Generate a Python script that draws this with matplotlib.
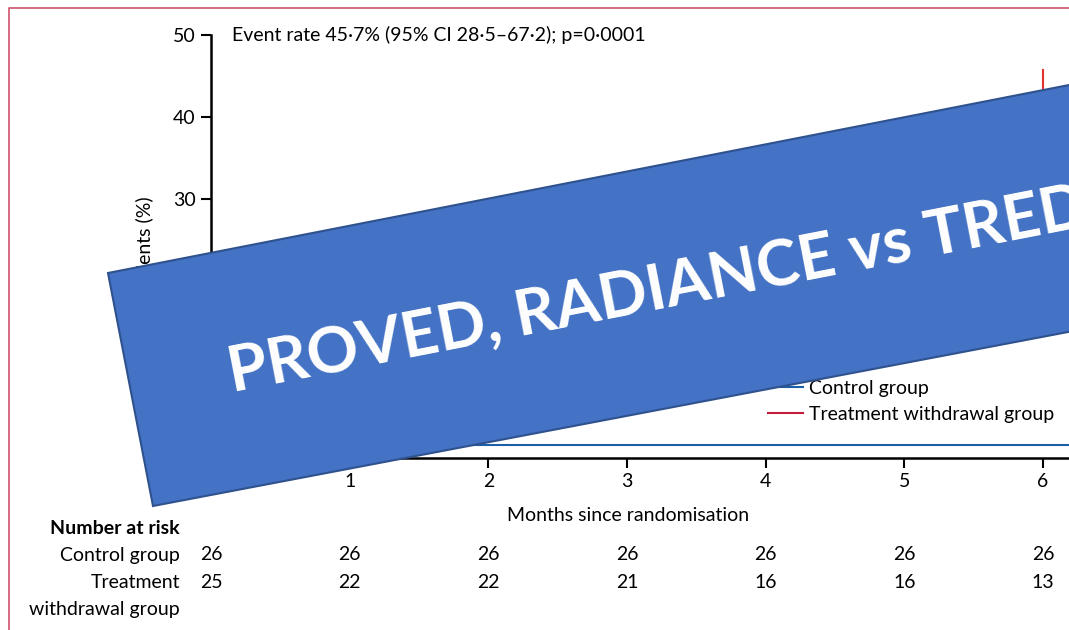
import matplotlib
matplotlib.use("Agg")
import matplotlib.pyplot as plt
from matplotlib.lines import Line2D
from matplotlib.patches import Polygon
from matplotlib.transforms import blended_transform_factory

plt.rcParams['font.family'] = ['Lato', 'DejaVu Sans']

# data
months = [0, 1, 2, 3, 4, 5, 6]
control_at_risk = [26, 26, 26, 26, 26, 26, 26]
treat_at_risk = [25, 22, 22, 21, 16, 16, 13]

control_times = [0, 6.19]
control_pct = [0, 0]
treat_times = [0, 0.3, 0.6, 0.9, 2.5, 3.3, 3.6, 4.2, 5.2, 5.6, 6.0]
treat_pct = [0, 4.0, 8.0, 12.0, 16.5, 21.0, 26.0, 31.0, 36.0, 41.0, 45.7]

W, H = 1069, 630
fig = plt.figure(figsize=(W / 100, H / 100), dpi=100)


def fx(px):
    return px / W


def fy(py):
    return 1 - py / H


ax = fig.add_axes([fx(211), fy(458), fx(1069 - 211), (458 - 35) / H])

blue = '#1b5fa6'
red = '#e2322e'
ax.step(control_times, control_pct, where='post', color=blue, lw=1.5)
ax.step(treat_times, treat_pct, where='post', color=red, lw=1.5)

ax.set_xlim(0, 6.187)
ax.set_ylim(-1.585, 50)
ax.set_xticks(months)
ax.set_yticks([0, 10, 20, 30, 40, 50])
for s in ['top', 'right']:
    ax.spines[s].set_visible(False)
for s in ['left', 'bottom']:
    ax.spines[s].set_linewidth(1.8)
ax.tick_params(length=7, width=1.5, labelsize=14, pad=4)
ax.set_xlabel('Months since randomisation', fontsize=14)
ax.xaxis.set_label_coords((628 - 211) / 858, -0.115)
ax.set_ylabel('Patients (%)', fontsize=14, labelpad=14)

ax.text(0.15, 50, 'Event rate 45·7% (95% CI 28·5–67·2); p=0·0001',
        fontsize=14, va='center', ha='left')

handles = [Line2D([], [], color=blue, lw=1.5),
           Line2D([], [], color='#c41a3b', lw=1.5)]
ax.legend(handles, ['Control group', 'Treatment withdrawal group'],
          loc='upper left', bbox_to_anchor=(fx(768), fy(380)),
          bbox_transform=fig.transFigure, frameon=False, fontsize=14,
          handlelength=1.8, handletextpad=0.3, labelspacing=0.45,
          borderpad=0, borderaxespad=0)

# number at risk table
tr = blended_transform_factory(ax.transData, fig.transFigure)
fig.text(fx(180), fy(528), 'Number at risk', ha='right', va='center',
         fontsize=14, fontweight='bold')
fig.text(fx(180), fy(555), 'Control group', ha='right', va='center', fontsize=14)
fig.text(fx(180), fy(583), 'Treatment', ha='right', va='center', fontsize=14)
fig.text(fx(180), fy(610), 'withdrawal group', ha='right', va='center', fontsize=14)
for m, c, t in zip(months, control_at_risk, treat_at_risk):
    ax.text(m, fy(555), str(c), transform=tr, ha='center', va='center',
            fontsize=14, clip_on=False)
    ax.text(m, fy(583), str(t), transform=tr, ha='center', va='center',
            fontsize=14, clip_on=False)

# pink frame
fig.add_artist(Line2D([fx(8.5), fx(8.5), fx(1075)], [fy(640), fy(8), fy(8)],
                      color='#d0607a', lw=1.3))

# banner on top
pts = [(108, 273), (153, 506), (1110, 324), (1110, 77)]
banner = Polygon([(fx(x), fy(y)) for x, y in pts], closed=True,
                 facecolor='#4472c4', edgecolor='#2f528f', lw=1.5,
                 transform=fig.transFigure, zorder=5)
fig.add_artist(banner)
fig.text(fx(232), fy(392), 'PROVED, RADIANCE vs TRED-HF', rotation=11,
         rotation_mode='anchor', ha='left', va='baseline', color='white',
         fontsize=46, fontweight='bold', family='Lato', zorder=6)

fig.savefig('out.png', dpi=100)
